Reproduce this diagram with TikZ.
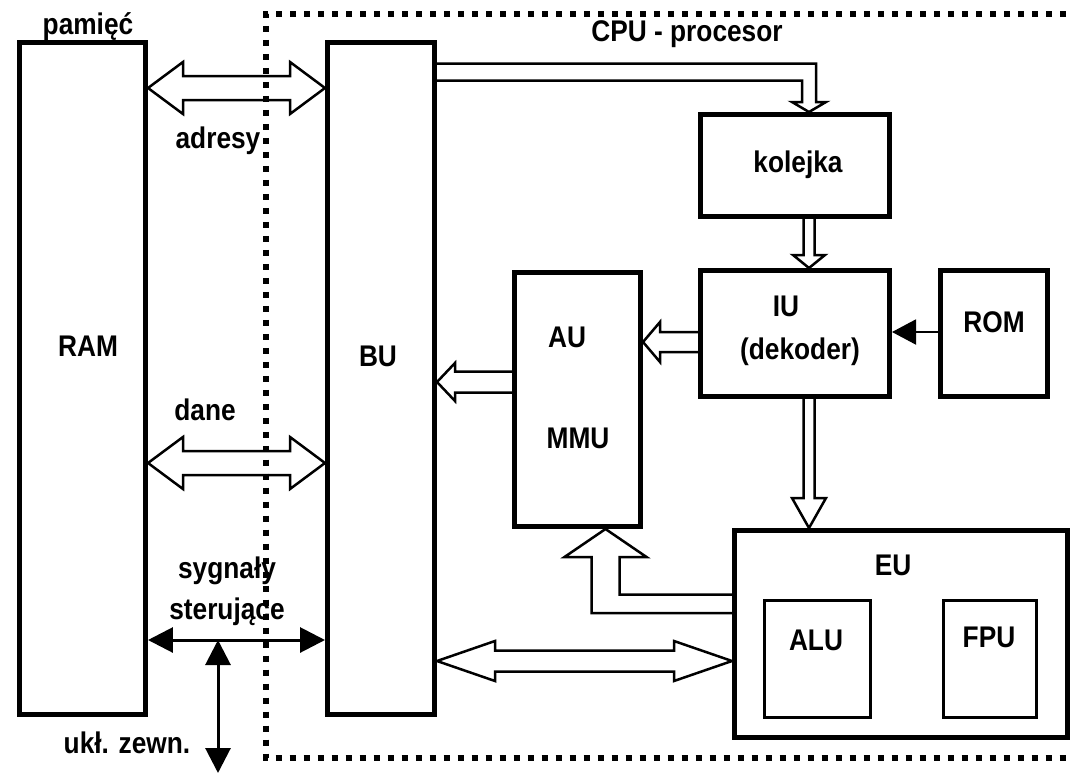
\documentclass[tikz,border=0pt]{standalone}
\usepackage{fontspec}
\setmainfont{Liberation Sans}[FakeStretch=0.88]
\usetikzlibrary{arrows.meta,calc}
\newcommand{\pxu}{0.02cm}
% hollow double bus arrow: left tip, right tip, head length, head half, shaft half
\newcommand{\dbus}[5]{%
  \draw[bus] (#1) -- ++(#3,-#4) -- ++(0,#4-#5) -- ($(#2)+(-#3,-#5)$) -- ++(0,#5-#4)
    -- (#2) -- ++(-#3,#4) -- ++(0,#5-#4) -- ($(#1)+(#3,#5)$) -- ++(0,#4-#5) -- cycle;}
% hollow arrow pointing left: tail, tip, head length, head half, shaft half
\newcommand{\lbus}[5]{%
  \draw[bus] ($(#1)+(0,-#5)$) -- ($(#2)+(#3,-#5)$) -- ++(0,#5-#4) -- (#2)
    -- ++(#3,#4) -- ++(0,#5-#4) -- ($(#1)+(0,#5)$);}
% hollow arrow pointing down: tail, tip, head length, head half, shaft half
\newcommand{\dnbus}[5]{%
  \draw[bus] ($(#1)+(-#5,0)$) -- ($(#2)+(-#5,-#3)$) -- ++(#5-#4,0) -- (#2)
    -- ++(#4,-#3) -- ++(#5-#4,0) -- ($(#1)+(#5,0)$);}
\tikzset{
  box/.style={draw, line width=0.1cm, inner sep=0pt},
  subbox/.style={draw, line width=0.06cm, inner sep=0pt},
  lbl/.style={font=\bfseries\fontsize{17}{20}\selectfont, inner sep=0pt, anchor=base},
  bus/.style={line width=0.05cm, line join=miter},
  ctl/.style={line width=0.06cm, {Triangle[length=0.5cm,width=0.5cm]}-{Triangle[length=0.5cm,width=0.5cm]}},
  cpu/.style={line width=0.12cm, dash pattern=on 0.12cm off 0.16cm},
}
\begin{document}
\begin{tikzpicture}[x=\pxu, y=-\pxu]
  \useasboundingbox (0,0) rectangle (1075,774);
  % processor frame
  \draw[cpu] (1066,14) -- (266,14) -- (266,758) -- (1066,758);
  \node[lbl] (tcpu) at (687,41) {CPU - procesor};
  \node[lbl] (tpam) at (88,34) {pamięć};

  % blocks
  \node[box, minimum width=126*\pxu, minimum height=672*\pxu] (ram) at (82.5,378) {};
  \node[box, minimum width=107*\pxu, minimum height=672*\pxu] (bu) at (381,378) {};
  \node[box, minimum width=189*\pxu, minimum height=102*\pxu] (kol) at (795,165.5) {};
  \node[box, minimum width=189*\pxu, minimum height=126*\pxu] (iu) at (795,333.5) {};
  \node[box, minimum width=107*\pxu, minimum height=126*\pxu] (rom) at (994,333.5) {};
  \node[box, minimum width=126*\pxu, minimum height=254*\pxu] (au) at (577.5,399.5) {};
  \node[box, minimum width=333*\pxu, minimum height=207*\pxu] (eu) at (901,634) {};
  \node[subbox, minimum width=106*\pxu, minimum height=117*\pxu] (alu) at (817.5,659) {};
  \node[subbox, minimum width=93*\pxu, minimum height=117*\pxu] (fpu) at (990,659) {};

  \node[lbl] (tram) at (88,356) {RAM};
  \node[lbl] (tbu) at (378,366) {BU};
  \node[lbl] (tkol) at (798,172) {kolejka};
  \node[lbl] (tiu) at (786,316) {IU};
  \node[lbl] (tdek) at (800,359) {(dekoder)};
  \node[lbl] (trom) at (994,332) {ROM};
  \node[lbl] (tau) at (567,347) {AU};
  \node[lbl] (tmmu) at (578,448) {MMU};
  \node[lbl] (teu) at (893,575) {EU};
  \node[lbl] (talu) at (816,650) {ALU};
  \node[lbl] (tfpu) at (989,647) {FPU};

  % buses to memory
  \coordinate (adrL) at (ram.east |- 0,88);
  \coordinate (adrR) at (bu.west |- 0,88);
  \dbus{adrL}{adrR}{35}{26}{12}
  \node[lbl] (tadr) at (218,148) {adresy};
  \coordinate (danL) at (ram.east |- 0,463);
  \coordinate (danR) at (bu.west |- 0,463);
  \dbus{danL}{danR}{35}{26}{12}
  \node[lbl] (tdan) at (205,420) {dane};

  % control signals
  \coordinate (sygL) at (ram.east |- 0,640);
  \coordinate (sygR) at (bu.west |- 0,640);
  \draw[ctl] (sygL) -- (sygR);
  \coordinate (zewn) at (218,773);
  \draw[ctl] (zewn) -- (zewn |- sygL);
  \node[lbl] (tsyg) at (227,578) {sygnały};
  \node[lbl] (tste) at (227,619) {sterujące};
  \node[lbl] (tzew) at (127,753) {ukł. zewn.};

  % inside the processor
  \coordinate (kolT) at (kol.north -| 809,0);
  \draw[bus] (bu.east |- 0,63.5) -| ($(kolT)+(7,-10)$) -- ++(10,0) -- (kolT)
    -- ++(-17,-10) -- ++(10,0) |- (bu.east |- 0,80.5);
  \coordinate (kolB) at (kol.south -| 809,0);
  \coordinate (iuT) at (iu.north -| 809,0);
  \dnbus{kolB}{iuT}{13}{16}{5.5}
  \coordinate (iuB) at (iu.south -| 809,0);
  \coordinate (euT) at (eu.north -| 809,0);
  \dnbus{iuB}{euT}{30}{17}{5.5}
  \coordinate (iuL) at (iu.west |- 0,342);
  \coordinate (auR) at (au.east |- 0,342);
  \lbus{iuL}{auR}{17}{20}{10}
  \coordinate (auL) at (au.west |- 0,382);
  \coordinate (buR) at (bu.east |- 0,382);
  \lbus{auL}{buR}{18}{19}{10.5}
  \draw[line width=0.04cm, -{Triangle[length=0.48cm,width=0.5cm]}] (rom.west |- 0,332) -- (iu.east |- 0,332);
  \coordinate (auB) at (au.south -| 605.5,0);
  \draw[bus] (eu.west |- 0,594.5) -| ($(auB)+(14,28)$) -- ++(27,0) -- (auB)
    -- ++(-41,28) -- ++(27,0) |- (eu.west |- 0,613);
  \coordinate (buE) at (bu.east |- 0,661);
  \coordinate (euW) at (eu.west |- 0,661);
  \dbus{buE}{euW}{58}{20}{10.5}
\end{tikzpicture}
\end{document}
